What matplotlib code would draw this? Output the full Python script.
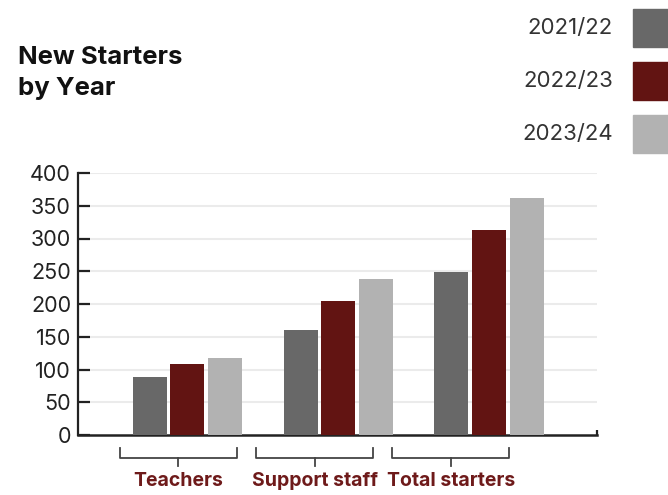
import matplotlib.pyplot as plt
import numpy as np

categories = ["Teachers", "Support staff", "Total starters"]
years = ["2021/22", "2022/23", "2023/24"]
starters_2122 = [89, 160, 249]
starters_2223 = [108, 205, 313]
starters_2324 = [117, 238, 362]
yticks = [0, 50, 100, 150, 200, 250, 300, 350, 400]

colors = ["#686868", "#621412", "#b2b2b2"]
label_red = "#6e1a1a"
ink = "#222222"

plt.rcParams["font.family"] = ["Inter", "DejaVu Sans"]

W, H = 668, 495
fig = plt.figure(figsize=(W / 100, H / 100), dpi=100)


def px(x0, y0, x1, y1):
    # pixel box -> figure fraction rect
    return [x0 / W, 1 - y1 / H, (x1 - x0) / W, (y1 - y0) / H]


ax = fig.add_axes(px(78, 173, 597, 435))
x = np.arange(len(categories))
series = [starters_2122, starters_2223, starters_2324]
offsets = [-0.249, 0, 0.249]
for vals, off, c in zip(series, offsets, colors):
    ax.bar(x + off, vals, width=0.225, color=c, zorder=3)

ax.set_xlim(-0.725, 2.716)
ax.set_ylim(0, 400)
ax.set_yticks(yticks)
ax.set_xticks([])
for y in yticks[1:]:
    ax.plot([-0.645, 2.716], [y, y], color="#ebebeb", lw=1.5, zorder=1,
            solid_capstyle="butt")

for s in ["top", "right"]:
    ax.spines[s].set_visible(False)
ax.spines["left"].set_color(ink)
ax.spines["left"].set_linewidth(1.6)
ax.spines["bottom"].set_color(ink)
ax.spines["bottom"].set_linewidth(1.8)
ax.tick_params(axis="y", direction="in", length=8.5, width=1.6, color=ink,
               labelsize=15.5, labelcolor=ink, pad=5)
# small end tick on the category axis
ax.plot([2.716, 2.716], [0, 7], color=ink, lw=1.6, clip_on=False,
        solid_capstyle="butt")

# bracketed category labels
cax = fig.add_axes(px(110, 446, 519, 470))
cax.set_xlim(-0.5, 2.5)
cax.set_ylim(0, 1)
cax.axis("off")
for i, name in enumerate(categories):
    cax.plot([i - 0.43, i - 0.43, i + 0.43, i + 0.43], [0.92, 0.5, 0.5, 0.92],
             color="#444444", lw=1.3)
    cax.plot([i, i], [0.5, 0.16], color="#444444", lw=1.3)
    cax.text(i, -0.45, name, ha="center", va="center", fontsize=14,
             fontweight="bold", color=label_red)

fig.text(18 / W, 1 - 58 / H, "New Starters", fontsize=18.5, fontweight="bold",
         color="#111111", va="center", ha="left")
fig.text(18 / W, 1 - 88 / H, "by Year", fontsize=18.5, fontweight="bold",
         color="#111111", va="center", ha="left")

# legend
leg_y = [28, 81, 134]
for yr, c, yc in zip(years, colors, leg_y):
    fig.patches.append(plt.Rectangle(((633) / W, 1 - (yc + 19) / H), 38 / W, 38 / H,
                                     transform=fig.transFigure, color=c))
    fig.text(613 / W, 1 - yc / H, yr, fontsize=16, color="#333333",
             ha="right", va="center")

fig.savefig("out.png", dpi=100)
